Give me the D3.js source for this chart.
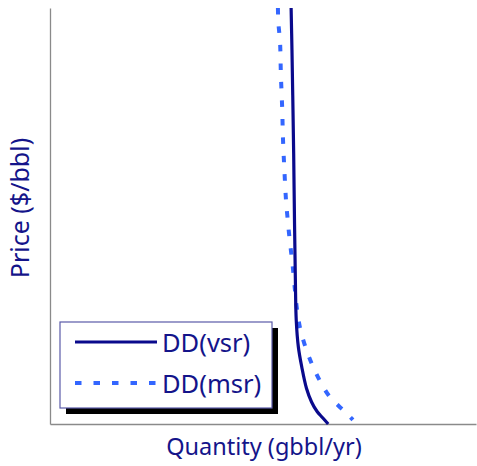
<!DOCTYPE html>
<html>
<head>
<meta charset="utf-8">
<script src="https://cdn.jsdelivr.net/npm/d3@7"></script>
<style>
  html, body { margin: 0; padding: 0; background: #fff; }
  svg { display: block; }
  text { font-family: "Noto Sans", "DejaVu Sans", sans-serif; fill: #14148a; }
</style>
</head>
<body>
<div id="chart"></div>
<script>
// Demand curves: quantity (arbitrary units) against price (arbitrary units)
const vsrQuantity = [56.6, 56.8, 57.0, 57.2, 57.4, 57.6, 57.8, 58.3, 59.1, 60.2, 61.4, 62.7, 64.0, 65.3];
const vsrPrice    = [100, 89.9, 77.9, 65.0, 48.3, 34.6, 25.0, 18.5, 13.7, 8.6, 5.3, 3.0, 1.5, 0];

const msrQuantity = [53.5, 53.6, 54.0, 54.2, 54.5, 54.7, 55.0, 55.4, 55.7, 56.1, 56.6, 57.0, 57.5, 58.0, 58.8, 60.2, 61.7, 63.4, 65.4, 67.6, 69.8, 71.1];
const msrPrice    = [100, 96.6, 91.8, 83.9, 76.0, 68.3, 61.5, 53.8, 50.2, 45.9, 41.3, 37.7, 32.2, 27.4, 22.6, 17.8, 13.9, 10.3, 6.9, 4.5, 2.4, 1.0];

const seriesNames = ["DD(vsr)", "DD(msr)"];
const xTitle = "Quantity (gbbl/yr)";
const yTitle = "Price ($/bbl)";

const W = 477, H = 466;
const svg = d3.select("#chart").append("svg").attr("width", W).attr("height", H);

const x = d3.scaleLinear().domain([0, 100]).range([50, 476]);
const y = d3.scaleLinear().domain([0, 100]).range([424, 8]);

// Axes: bare lines, no ticks
const axisColor = "#8a8a8a";
svg.append("g").attr("transform", `translate(0,${y(0)})`)
  .call(d3.axisBottom(x).tickValues([]).tickSizeOuter(0))
  .call(g => g.select(".domain").attr("stroke", axisColor).attr("stroke-width", 1.3));
svg.append("g").attr("transform", `translate(${x(0)},0)`)
  .call(d3.axisLeft(y).tickValues([]).tickSizeOuter(0))
  .call(g => g.select(".domain").attr("stroke", axisColor).attr("stroke-width", 1.3));

const line = d3.line().x(d => x(d[0])).y(d => y(d[1])).curve(d3.curveCatmullRom.alpha(0.5));

const vsr = vsrQuantity.map((q, i) => [q, vsrPrice[i]]);
const msr = msrQuantity.map((q, i) => [q, msrPrice[i]]);

const styles = [
  { color: "#0a0a8c", width: 3.2, dash: null },
  { color: "#3366ff", width: 4, dash: "6.5,12" }
];

svg.append("path").datum(msr)
  .attr("fill", "none").attr("stroke", styles[1].color)
  .attr("stroke-width", styles[1].width).attr("stroke-dasharray", styles[1].dash)
  .attr("d", line);
svg.append("path").datum(vsr)
  .attr("fill", "none").attr("stroke", styles[0].color)
  .attr("stroke-width", styles[0].width)
  .attr("d", line);

// Axis titles
svg.append("text")
  .attr("x", 264).attr("y", 455)
  .attr("text-anchor", "middle").attr("font-size", 23.5)
  .text(xTitle);
svg.append("text")
  .attr("transform", "translate(29,208) rotate(-90)")
  .attr("text-anchor", "middle").attr("font-size", 25)
  .text(yTitle);

// Legend with drop shadow
const lg = svg.append("g");
lg.append("rect").attr("x", 66).attr("y", 328).attr("width", 212).attr("height", 86).attr("fill", "#000");
lg.append("rect").attr("x", 60).attr("y", 322).attr("width", 212).attr("height", 86)
  .attr("fill", "#fff").attr("stroke", "#5a5aa8").attr("stroke-width", 1.2);
const rows = [342, 383];
seriesNames.forEach((name, i) => {
  lg.append("line").attr("x1", 75).attr("x2", 157).attr("y1", rows[i]).attr("y2", rows[i])
    .attr("stroke", styles[i].color).attr("stroke-width", styles[i].width)
    .attr("stroke-dasharray", styles[i].dash);
  lg.append("text").attr("x", 162).attr("y", rows[i] + 10)
    .attr("font-size", 25.5).text(name);
});
</script>
</body>
</html>
